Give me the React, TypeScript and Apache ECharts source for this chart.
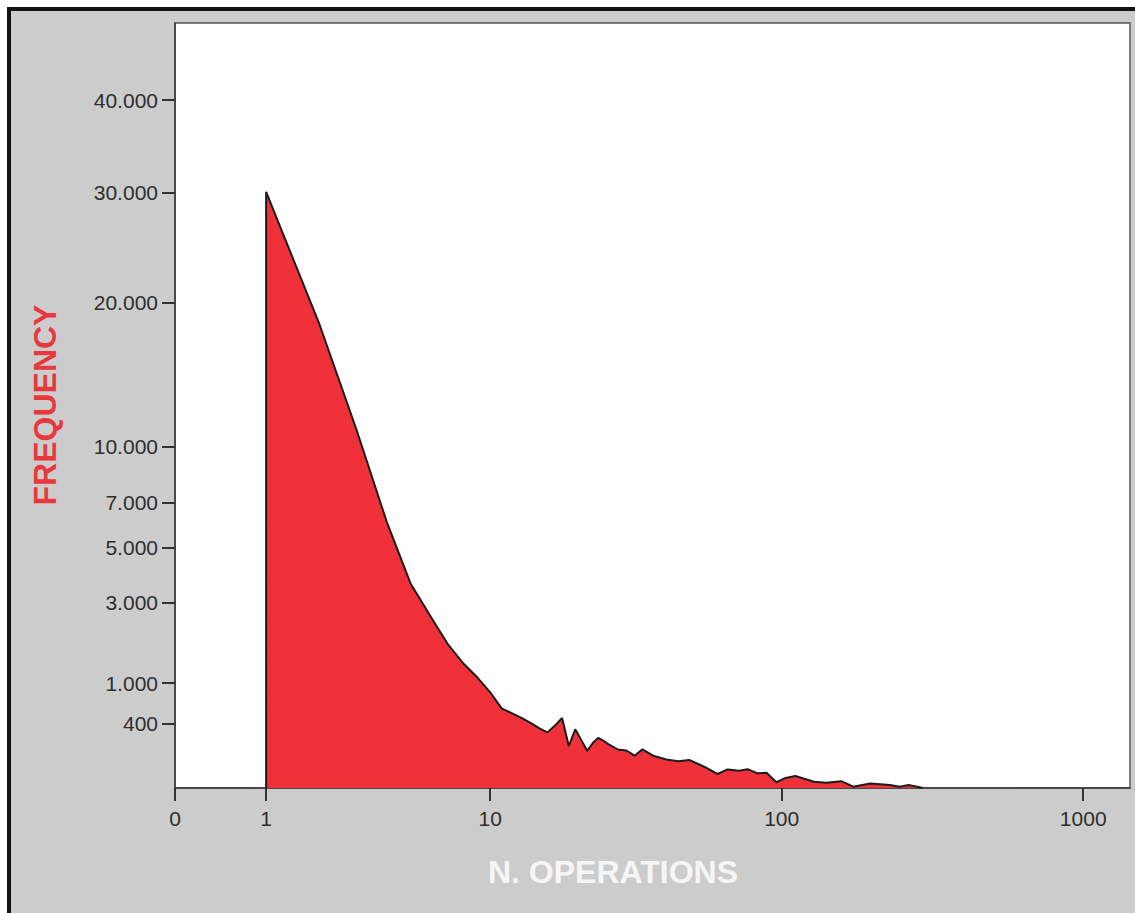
import React, { useEffect, useRef } from "react";
import * as echarts from "echarts";

// Number of operations (x) and how often each count occurs (y)
const operations = [
  1, 2, 3, 4, 5, 6, 7, 8, 9, 10, 11, 12, 13, 14, 15, 16, 17, 18, 19, 20, 21, 22,
  23, 24, 25, 26, 28, 30, 32, 34, 37, 41, 45, 49, 55, 61, 66, 72, 77, 83, 89, 96,
  103, 111, 128, 141, 158, 173, 197, 229, 247, 264, 295,
];
const frequency = [
  30100, 18300, 10850, 6140, 3650, 2580, 1820, 1380, 1100, 840, 592, 524, 464,
  404, 344, 303, 375, 465, 181, 335, 230, 146, 205, 250, 225, 197, 156, 148, 114,
  156, 114, 92, 82, 89, 56, 29, 45, 40, 46, 31, 33, 9, 18, 23, 10, 8, 11, 3, 7,
  5, 3, 5, 1.8,
];

const xTicks = [0, 1, 10, 100, 1000];
const yTicks = [400, 1000, 3000, 5000, 7000, 10000, 20000, 30000, 40000];

const xMax = 1428;
const yMin = 1.8;
const yMax = 49400;

// Axis transforms: x uses log10(n + 1), y uses a square-root scale
const tx = (v: number) => Math.log10(v + 1);
const ty = (v: number) => Math.sqrt(v);
const fmtThousands = (n: number) =>
  String(n).replace(/\B(?=(\d{3})+(?!\d))/g, ".");

export default function App() {
  const ref = useRef<HTMLDivElement>(null);

  useEffect(() => {
    if (!ref.current) return;
    const chart = echarts.init(ref.current, null, { renderer: "svg" });

    const points: number[][] = [[tx(operations[0]), ty(yMin)]];
    operations.forEach((x, i) => points.push([tx(x), ty(frequency[i])]));

    const font = "'Liberation Sans', Arial, sans-serif";

    chart.setOption({
      animation: false,
      backgroundColor: "transparent",
      grid: {
        left: 175,
        top: 23,
        width: 955,
        height: 765,
        show: true,
        backgroundColor: "#ffffff",
        borderColor: "#555555",
        borderWidth: 1.5,
      },
      xAxis: {
        type: "value",
        min: 0,
        max: tx(xMax),
        splitLine: { show: false },
        axisLine: { show: true, lineStyle: { color: "#3a3a3a", width: 1.5 } },
        axisTick: {
          show: true,
          customValues: xTicks.map(tx),
          length: 13,
          lineStyle: { color: "#333333", width: 2 },
        },
        axisLabel: {
          customValues: xTicks.map(tx),
          formatter: (v: number) => String(Math.round(Math.pow(10, v) - 1)),
          color: "#2e2e2e",
          fontFamily: font,
          fontSize: 21,
          margin: 20,
        },
      },
      yAxis: {
        type: "value",
        min: ty(yMin),
        max: ty(yMax),
        splitLine: { show: false },
        axisLine: { show: true, lineStyle: { color: "#3a3a3a", width: 1.5 } },
        axisTick: {
          show: true,
          customValues: yTicks.map(ty),
          length: 13,
          lineStyle: { color: "#333333", width: 2 },
        },
        axisLabel: {
          customValues: yTicks.map(ty),
          formatter: (v: number) => fmtThousands(Math.round(v * v)),
          color: "#2e2e2e",
          fontFamily: font,
          fontSize: 21,
          margin: 17,
        },
      },
      graphic: [
        {
          type: "text",
          x: 45,
          y: 405,
          rotation: Math.PI / 2,
          style: {
            text: "FREQUENCY",
            fill: "#e8383d",
            font: `bold 32px ${font}`,
            align: "center",
            verticalAlign: "middle",
          },
        },
        {
          type: "text",
          x: 613,
          y: 872,
          style: {
            text: "N. OPERATIONS",
            fill: "#f6f6f6",
            font: `bold 32px ${font}`,
            align: "center",
            verticalAlign: "middle",
          },
        },
      ],
      series: [
        {
          type: "line",
          data: points,
          symbol: "none",
          lineStyle: { color: "#1c1c1c", width: 2 },
          areaStyle: { color: "#f03139", opacity: 1, origin: "start" },
          z: 2,
        },
      ],
    });

    return () => chart.dispose();
  }, []);

  return (
    <div
      style={{
        position: "fixed",
        left: 0,
        top: 0,
        width: 1135,
        height: 913,
        background: "#ffffff",
      }}
    >
      <div
        style={{
          position: "absolute",
          left: 7,
          top: 7,
          right: 0,
          bottom: 0,
          background: "#cccccc",
          borderLeft: "4px solid #111111",
          borderTop: "4px solid #111111",
        }}
      />
      <div
        ref={ref}
        style={{ position: "absolute", left: 0, top: 0, width: 1135, height: 913 }}
      />
    </div>
  );
}
